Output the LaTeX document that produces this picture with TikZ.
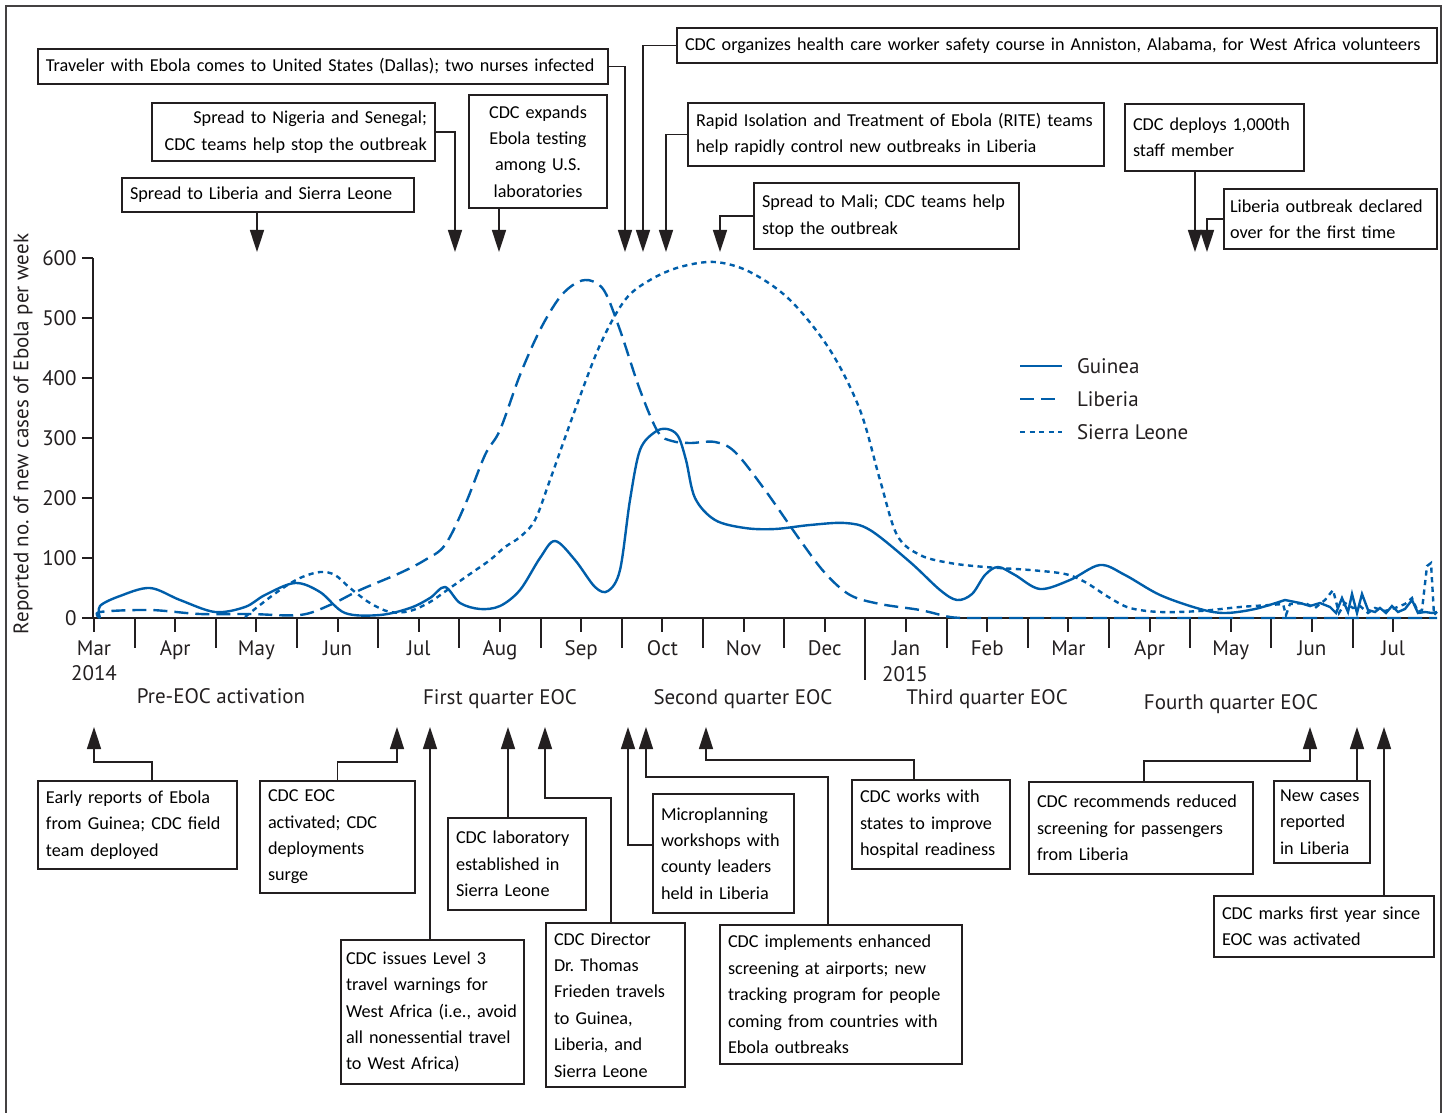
\documentclass[tikz,border=0pt]{standalone}
\usepackage{fontspec}
\setmainfont{Carlito}
\newfontfamily\axisfont{PT Sans}
\usetikzlibrary{arrows.meta}
\frenchspacing

\definecolor{ebolablue}{RGB}{0,94,170}
\definecolor{inkgray}{RGB}{35,31,32}

\tikzset{
    evbox/.style={draw=inkgray, line width=1pt, anchor=north west, align=left,
        inner xsep=4pt, inner ysep=2pt, font=\fontsize{9.1}{13.2}\selectfont},
    evarrow/.style={draw=inkgray, line width=0.8pt, -{Triangle[width=7pt,length=11pt]}},
    axisline/.style={draw=inkgray, line width=1pt},
    axislabel/.style={inkgray, font=\axisfont\fontsize{10.5}{12.5}\selectfont},
    guinea/.style={ebolablue, line width=1.2pt},
    liberia/.style={ebolablue, line width=1.2pt, dash pattern=on 7pt off 3.5pt},
    sierra/.style={ebolablue, line width=1.2pt, dash pattern=on 2.6pt off 2.2pt},
}

\begin{document}
\begin{tikzpicture}[x=0.5pt, y=-0.5pt]

    \useasboundingbox (0,0) rectangle (1447,1113);

    % outer frame
    \draw[inkgray!85, line width=1pt] (6,1120) -- (6,6) -- (1441,6) -- (1441,1120);

    % arrow tips above the chart
    \coordinate (tLib)    at (257,252);
    \coordinate (tNig)    at (455,252);
    \coordinate (tLab)    at (499,252);
    \coordinate (tUS)     at (625,252);
    \coordinate (tCourse) at (643,252);
    \coordinate (tRite)   at (666,252);
    \coordinate (tMali)   at (720,252);
    \coordinate (tStaff)  at (1195,252);
    \coordinate (tOver)   at (1207,252);

    % arrow tips below the axis
    \coordinate (bEarly)   at (94,727);
    \coordinate (bEoc)     at (397,727);
    \coordinate (bLevel)   at (430,727);
    \coordinate (bSl)      at (508,727);
    \coordinate (bFrieden) at (545,727);
    \coordinate (bMicro)   at (628,727);
    \coordinate (bScreen)  at (646,727);
    \coordinate (bReady)   at (706,727);
    \coordinate (bReduce)  at (1310,727);
    \coordinate (bNew)     at (1357,727);
    \coordinate (bYear)    at (1384,727);

    % top event boxes
    \node[evbox, text width=138pt, minimum height=17pt] (T1) at (121,177)
        {Spread to Liberia and Sierra Leone};
    \node[evbox, align=right, text width=133.5pt, minimum height=29pt] (T2) at (151,102)
        {Spread to Nigeria and Senegal;\\CDC teams help stop the outbreak};
    \node[evbox, align=center, text width=61pt, minimum height=56.5pt] (T3) at (468,94)
        {CDC expands\\Ebola testing\\among U.S.\\laboratories};
    \node[evbox, text width=277pt, minimum height=17.5pt] (T4) at (37,48)
        {Traveler with Ebola comes to United States (Dallas); two nurses infected};
    \node[evbox, text width=372pt, minimum height=17.5pt] (T5) at (676,27)
        {CDC organizes health care worker safety course in Anniston, Alabama, for West Africa volunteers};
    \node[evbox, text width=200pt, minimum height=31.5pt] (T6) at (687,102)
        {Rapid Isolation and Treatment of Ebola (RITE) teams\\help rapidly control new outbreaks in Liberia};
    \node[evbox, text width=124.5pt, minimum height=33pt] (T7) at (753,182)
        {Spread to Mali; CDC teams help\\stop the outbreak};
    \node[evbox, text width=81.5pt, minimum height=33.5pt] (T8) at (1124,103)
        {CDC deploys 1,000th\\staff member};
    \node[evbox, inner xsep=3pt, text width=100.5pt, minimum height=30pt] (T9) at (1223,188)
        {Liberia outbreak declared\\over for the first time};

    % bottom event boxes
    \node[evbox, text width=91.5pt, minimum height=44pt] (B1) at (37,780)
        {Early reports of Ebola\\from Guinea; CDC field\\team deployed};
    \node[evbox, text width=69.5pt, minimum height=56pt] (B2) at (259,780)
        {CDC EOC\\activated; CDC\\deployments\\surge};
    \node[evbox, inner xsep=2.5pt, text width=86.5pt, minimum height=72pt] (B3) at (340,939)
        {CDC issues Level 3\\travel warnings for\\West Africa (i.e., avoid\\all nonessential travel\\to West Africa)};
    \node[evbox, text width=61pt, minimum height=46pt] (B4) at (447,817)
        {CDC laboratory\\established in\\Sierra Leone};
    \node[evbox, text width=61.5pt, minimum height=82pt] (B5) at (545,922)
        {CDC Director\\Dr. Thomas\\Frieden travels\\to Guinea,\\Liberia, and\\Sierra Leone};
    \node[evbox, text width=62.5pt, minimum height=59.5pt] (B6) at (652,793)
        {Microplanning\\workshops with\\county leaders\\held in Liberia};
    \node[evbox, text width=113pt, minimum height=69.5pt] (B7) at (719,924)
        {CDC implements enhanced\\screening at airports; new\\tracking program for people\\coming from countries with\\Ebola outbreaks};
    \node[evbox, text width=71pt, minimum height=44.5pt] (B8) at (851,779)
        {CDC works with\\states to improve\\hospital readiness};
    \node[evbox, text width=104pt, minimum height=46pt] (B9) at (1028,781)
        {CDC recommends reduced\\screening for passengers\\from Liberia};
    \node[evbox, inner xsep=3pt, text width=42pt, minimum height=41pt] (B10) at (1273,780)
        {New cases\\reported\\in Liberia};
    \node[evbox, text width=102pt, minimum height=30.5pt] (B11) at (1213,895)
        {CDC marks first year since\\EOC was activated};

    % connectors from top boxes
    \draw[evarrow] (tLib |- T1.south) -- (tLib);
    \draw[evarrow] (T2.east) -| (tNig);
    \draw[evarrow] (tLab |- T3.south) -- (tLab);
    \draw[evarrow] (T4.east) -| (tUS);
    \draw[evarrow] (T5.west) -| (tCourse);
    \draw[evarrow] (T6.west) -| (tRite);
    \draw[evarrow] (T7.west) -| (tMali);
    \draw[evarrow] (tStaff |- T8.south) -- (tStaff);
    \draw[evarrow] (T9.west) -| (tOver);

    % connectors from bottom boxes
    \draw[evarrow] (B1.north) ++(14.5,0) -- ++(0,-18) -| (bEarly);
    \draw[evarrow] (B2.north) -- ++(0,-18) -| (bEoc);
    \draw[evarrow] (bLevel |- B3.north) -- (bLevel);
    \draw[evarrow] (bSl |- B4.north) -- (bSl);
    \draw[evarrow] (B5.north) ++(-4.5,0) -- ++(0,-124) -| (bFrieden);
    \draw[evarrow] ([yshift=4.25pt]B6.west) -| (bMicro);
    \draw[evarrow] (B7.north) ++(-13,0) -- ++(0,-147) -| (bScreen);
    \draw[evarrow] (B8.north) ++(-17,0) -- ++(0,-19) -| (bReady);
    \draw[evarrow] (B9.north) ++(3,0) -- ++(0,-20) -| (bReduce);
    \draw[evarrow] (bNew |- B10.north) -- (bNew);
    \draw[evarrow] (bYear |- B11.north) -- (bYear);

    % y axis
    \draw[axisline] (93,258) -- (93,618);
    \foreach \v in {0,100,...,600} {
        \draw[axisline] (82,618-0.6*\v) -- (93,618-0.6*\v);
        \node[axislabel, anchor=east, inner sep=0pt] at (77,618-0.6*\v) {\v};
    }
    \node[axislabel, rotate=90] (ylab) at (23,434) {Reported no. of new cases of Ebola per week};

    % x axis with months
    \draw[axisline] (93,618) -- (1437,618);
    \foreach \m [count=\i from 0] in {Mar,Apr,May,Jun,Jul,Aug,Sep,Oct,Nov,Dec,Jan,Feb,Mar,Apr,May,Jun,Jul} {
        \draw[axisline] (94+81.2*\i,618) -- ++(0,14);
        \node[axislabel, anchor=base] (m\i) at (94+81.2*\i,655) {\m};
    }
    \foreach \i in {0,...,8,10,11,...,15}
        \draw[axisline] (134.6+81.2*\i,618) -- ++(0,30);
    \draw[axisline] (865.4,618) -- (865.4,680);
    \node[axislabel, anchor=base] (y14) at (94,680) {2014};
    \node[axislabel, anchor=base] (y15) at (905,681) {2015};

    % EOC phases
    \node[axislabel, anchor=base] (p0) at (221,703) {Pre-EOC activation};
    \node[axislabel, anchor=base] (p1) at (500,704) {First quarter EOC};
    \node[axislabel, anchor=base] (p2) at (743,704) {Second quarter EOC};
    \node[axislabel, anchor=base] (p3) at (987,704) {Third quarter EOC};
    \node[axislabel, anchor=base] (p4) at (1231,709) {Fourth quarter EOC};

    % Guinea
    \draw[guinea] plot[smooth, tension=0.55] coordinates {
        (100,618) (100,606) (120,596) (150,588) (180,600) (215,612) (245,607) (265,595)
        (295,583) (320,592) (345,613) (380,615) (410,608) (430,598) (445,587) (460,603)
        (480,609) (500,606) (520,590) (540,558) (555,541) (575,560) (595,587) (608,591)
        (620,570) (630,500) (640,450) (655,432) (667,429) (678,436) (686,460) (695,498)
        (715,520) (745,528) (775,529) (810,525) (845,523) (870,530) (910,562) (940,590)
        (957,600) (972,594) (985,575) (998,567) (1015,575) (1040,589) (1070,580) (1100,565)
        (1125,575) (1160,595) (1200,609) (1225,613) (1255,609) (1285,600)}
        -- (1300,603) -- (1310,606) -- (1320,603) -- (1330,607) -- (1336,613) -- (1342,598)
        -- (1348,612) -- (1352,594) -- (1357,613) -- (1362,594) -- (1368,610) -- (1375,612)
        -- (1380,608) -- (1386,613) -- (1392,606) -- (1398,612) -- (1405,609) -- (1412,600)
        -- (1418,613) -- (1425,612) -- (1432,613) -- (1437,612);

    % Liberia
    \draw[liberia] plot[smooth, tension=0.55] coordinates {
        (100,618) (100,612) (150,610) (200,614) (250,614) (300,615) (330,605) (360,590)
        (400,573) (425,560) (445,545) (465,505) (485,455) (500,430) (520,375) (540,330)
        (560,297) (578,282) (592,281) (605,292) (620,330) (640,390) (658,432) (672,441)
        (690,443) (715,442) (735,452) (765,490) (800,540) (825,573) (850,595) (880,604)
        (920,610) (950,617) (970,618)} -- (1437,618);

    % Sierra Leone
    \draw[sierra] plot[smooth, tension=0.55] coordinates {
        (245,617) (260,605) (280,590) (300,578) (320,572) (335,575) (350,588) (370,603)
        (390,612) (410,611) (430,602) (450,588) (470,574) (490,560) (505,547) (520,537)
        (535,520) (550,480) (575,410) (600,345) (625,300) (650,280) (680,267) (715,262)
        (750,272) (790,300) (830,350) (860,410) (880,480) (897,535) (920,555) (950,563)
        (985,567) (1030,570) (1065,574) (1085,582) (1110,598) (1130,608) (1160,612)
        (1200,611) (1240,607) (1270,605) (1283,604)}
        -- (1286,615) -- (1290,604) -- (1305,603) -- (1315,608) -- (1325,600) -- (1333,590)
        -- (1339,613) -- (1345,603) -- (1353,608) -- (1360,606) -- (1368,613) -- (1375,608)
        -- (1385,611) -- (1395,608) -- (1405,604) -- (1412,598) -- (1418,612) -- (1422,610)
        -- (1427,566) -- (1431,563) -- (1434,615) -- (1437,612);

    % legend
    \draw[guinea] (1020,366) -- (1062,366);
    \draw[liberia] (1020,399) -- (1062,399);
    \draw[sierra] (1020,432) -- (1062,432);
    \node[axislabel, anchor=west] (lg) at (1070,366) {Guinea};
    \node[axislabel, anchor=west] (ll) at (1070,399) {Liberia};
    \node[axislabel, anchor=west] (ls) at (1070,432) {Sierra Leone};

\end{tikzpicture}
\end{document}
